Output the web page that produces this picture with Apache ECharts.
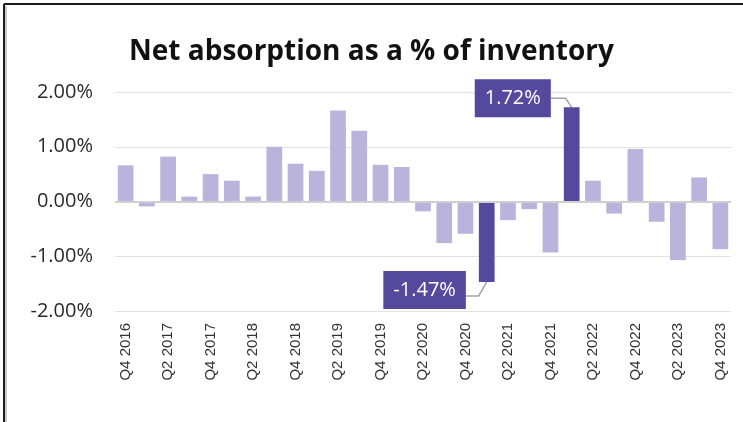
<!DOCTYPE html>
<html>
<head>
<meta charset="utf-8">
<script src="https://cdn.jsdelivr.net/npm/echarts@6/dist/echarts.min.js"></script>
<style>html,body{margin:0;padding:0;background:#fff;}#c{width:743px;height:422px;}</style>
</head>
<body>
<div id="c"></div>
<script>
var categories = ['Q4 2016','Q1 2017','Q2 2017','Q3 2017','Q4 2017','Q1 2018','Q2 2018','Q3 2018','Q4 2018',
  'Q1 2019','Q2 2019','Q3 2019','Q4 2019','Q1 2020','Q2 2020','Q3 2020','Q4 2020','Q1 2021','Q2 2021',
  'Q3 2021','Q4 2021','Q1 2022','Q2 2022','Q3 2022','Q4 2022','Q1 2023','Q2 2023','Q3 2023','Q4 2023'];
var values = [0.66,-0.09,0.82,0.09,0.50,0.38,0.09,1.00,0.69,
  0.56,1.66,1.29,0.67,0.63,-0.18,-0.76,-0.59,-1.47,-0.34,
  -0.14,-0.93,1.72,0.38,-0.22,0.96,-0.37,-1.07,0.44,-0.87];
var highlighted = ['Q1 2021','Q1 2022'];
var yTicks = [-2, -1, 0, 1, 2];

var LIGHT = '#bab4dc', DARK = '#55499d';
var data = values.map(function (v, i) {
  var hl = highlighted.indexOf(categories[i]) >= 0;
  return {
    value: v,
    itemStyle: { color: hl ? DARK : LIGHT },
    label: { show: hl }
  };
});

var frame = [
  { type: 'line', shape: { x1: 4, y1: 4, x2: 743, y2: 4 }, style: { stroke: '#1a1a1a', lineWidth: 2 } },
  { type: 'line', shape: { x1: 4, y1: 4, x2: 4, y2: 422 }, style: { stroke: '#1a1a1a', lineWidth: 2 } },
  { type: 'line', shape: { x1: 6, y1: 6, x2: 6, y2: 422 }, style: { stroke: '#9a9a9a', lineWidth: 1 } }
];

var chart = echarts.init(document.getElementById('c'));
chart.setOption({
  animation: false,
  backgroundColor: '#fff',
  title: {
    text: 'Net absorption as a % of inventory',
    left: 'center', top: 33,
    textStyle: { fontFamily: 'Open Sans', fontWeight: 'bold', fontSize: 28, color: '#111' }
  },
  grid: { left: 115, right: 12, top: 92, bottom: 111 },
  xAxis: {
    type: 'category',
    data: categories,
    axisLine: { show: false },
    axisTick: { show: false },
    axisLabel: { interval: 1, rotate: 90, margin: 12, fontFamily: 'Liberation Sans', fontSize: 15, color: '#333' }
  },
  yAxis: {
    type: 'value', min: yTicks[0], max: yTicks[yTicks.length - 1], interval: 1,
    axisLine: { show: false }, axisTick: { show: false },
    splitLine: { lineStyle: { color: '#e2e2e2', width: 1 } },
    axisLabel: {
      margin: 22, fontFamily: 'Open Sans', fontSize: 20, color: '#2a2a2a',
      formatter: function (v) { return v.toFixed(2) + '%'; }
    }
  },
  series: [{
    type: 'bar',
    data: data,
    barWidth: '74%',
    label: {
      position: 'top',
      formatter: function (p) { return p.value.toFixed(2) + '%'; },
      backgroundColor: DARK, color: '#fff',
      fontFamily: 'Open Sans', fontSize: 20, lineHeight: 22,
      padding: [8, 10, 8, 10]
    },
    labelLayout: function (p) {
      var i = p.dataIndex;
      if (highlighted.indexOf(categories[i]) < 0) return {};
      var r = p.rect;
      var top = Math.min(r.y, r.y + r.height), bottom = Math.max(r.y, r.y + r.height);
      var left = Math.min(r.x, r.x + r.width);
      var bx = left - 13;
      return { x: bx, y: values[i] >= 0 ? top - 9 : bottom + 8, align: 'right', verticalAlign: 'middle' };
    },
    markLine: {
      silent: true, symbol: 'none', label: { show: false },
      lineStyle: { color: '#d0d0d0', width: 2, type: 'solid' },
      data: [{ yAxis: 0 }]
    }
  }],
  graphic: frame
});

// leader lines, positioned through the chart's own scales
var leaders = [];
highlighted.forEach(function (cat) {
  var i = categories.indexOf(cat);
  var v = values[i];
  var end = chart.convertToPixel({ seriesIndex: 0 }, [i, v]);
  var cx = end[0];
  var halfBar = chart.getModel().getSeriesByIndex(0).getData().getItemLayout(i).width / 2;
  var bx = cx - Math.abs(halfBar) - 13;
  var pts;
  if (v >= 0) {
    var cy = end[1] - 9;
    pts = [[bx, cy], [cx - 6, cy], [cx, end[1]]];
  } else {
    var ly = end[1] + 14;
    pts = [[bx, ly], [cx - 8, ly], [cx, end[1]]];
  }
  leaders.push({ type: 'polyline', z: 1, shape: { points: pts }, style: { stroke: '#a6a6a6', lineWidth: 1.5, fill: null } });
});
chart.setOption({ graphic: frame.concat(leaders) });
</script>
</body>
</html>
